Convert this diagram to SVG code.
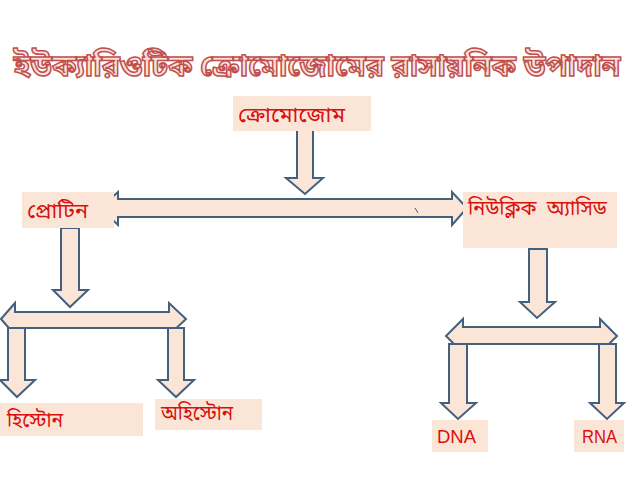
<svg xmlns="http://www.w3.org/2000/svg" width="638" height="479" viewBox="0 0 638 479">
<style>
.box{fill:#FBE5D6}
.lbl{font-family:"Noto Sans Bengali","Noto Serif Bengali","Lohit Bengali","Vrinda","Noto Sans",sans-serif;font-size:21px;fill:#D81010}
.lat{font-family:"Liberation Sans","Noto Sans",sans-serif;font-size:18px;fill:#D81010}
.arr{fill:#FBE5D6;stroke:#44607F;stroke-width:2;stroke-linejoin:miter}
.title{font-family:"Noto Sans Bengali","Noto Serif Bengali","Lohit Bengali","Noto Sans",sans-serif;font-size:30px;font-weight:bold;fill:#FBE0DC;stroke:#C0504D;stroke-width:1.5}
</style>
<rect width="638" height="479" fill="#FFFFFF"/>
<text class="title" x="317" y="76" text-anchor="middle">ইউক্যারিওটিক ক্রোমোজোমের রাসায়নিক উপাদান</text>
<g id="connectors">
<path class="arr" d="M297,127 H313 V178 H323 L305,194 L286,178 H297 Z"/>
<path class="arr" d="M100,208 L118,192 V199 H452 V192 L467,208 L452,225 V217 H118 V225 Z"/>
<line x1="415" y1="208" x2="418" y2="213" stroke="#44607F" stroke-width="1"/>
<path class="arr" d="M61,228 H79 V290 H88 L70,307 L53,290 H61 Z"/>
<path class="arr" d="M529,249 H547 V302 H555 L537,318 L520,302 H529 Z"/>
<path class="arr" d="M1,319 L15,303 V312 H169 V303 L186,319 L169,335 V328 H15 V335 Z"/>
<path class="arr" d="M8,328 H25 V380 H35 L17,397 L0,380 H8 Z"/>
<path class="arr" d="M168,328 H184 V380 H194 L176,397 L158,380 H168 Z"/>
<path class="arr" d="M446,336 L463,319 V327 H600 V319 L617,336 L600,353 V344 H463 V353 Z"/>
<path class="arr" d="M449,344 H467 V403 H476 L458,419 L441,403 H449 Z"/>
<path class="arr" d="M599,344 H616 V403 H624 L607,419 L590,403 H599 Z"/>
</g>
<g id="chromosome"><rect class="box" x="233" y="96" width="138" height="35"/><text class="lbl" x="238" y="122" textLength="107" lengthAdjust="spacingAndGlyphs">ক্রোমোজোম</text></g>
<g id="protein"><rect class="box" x="22" y="192" width="92" height="36"/><text class="lbl" x="27" y="218" textLength="61" lengthAdjust="spacingAndGlyphs">প্রোটিন</text></g>
<g id="nucleic"><rect class="box" x="463" y="192" width="154" height="56"/><text class="lbl" x="468" y="215" textLength="139" lengthAdjust="spacingAndGlyphs">নিউক্লিক&#160;&#160;অ্যাসিড</text></g>
<g id="histone"><rect class="box" x="0" y="403" width="143" height="33"/><text class="lbl" x="7" y="427" textLength="56" lengthAdjust="spacingAndGlyphs">হিস্টোন</text></g>
<g id="nonhistone"><rect class="box" x="155" y="399" width="107" height="31"/><text class="lbl" x="161" y="420" textLength="72" lengthAdjust="spacingAndGlyphs">অহিস্টোন</text></g>
<g id="dna"><rect class="box" x="432" y="420" width="56" height="32"/><text class="lat" x="437" y="443" textLength="39" lengthAdjust="spacingAndGlyphs">DNA</text></g>
<g id="rna"><rect class="box" x="574" y="420" width="50" height="32"/><text class="lat" x="582" y="443" textLength="35" lengthAdjust="spacingAndGlyphs">RNA</text></g>
</svg>
